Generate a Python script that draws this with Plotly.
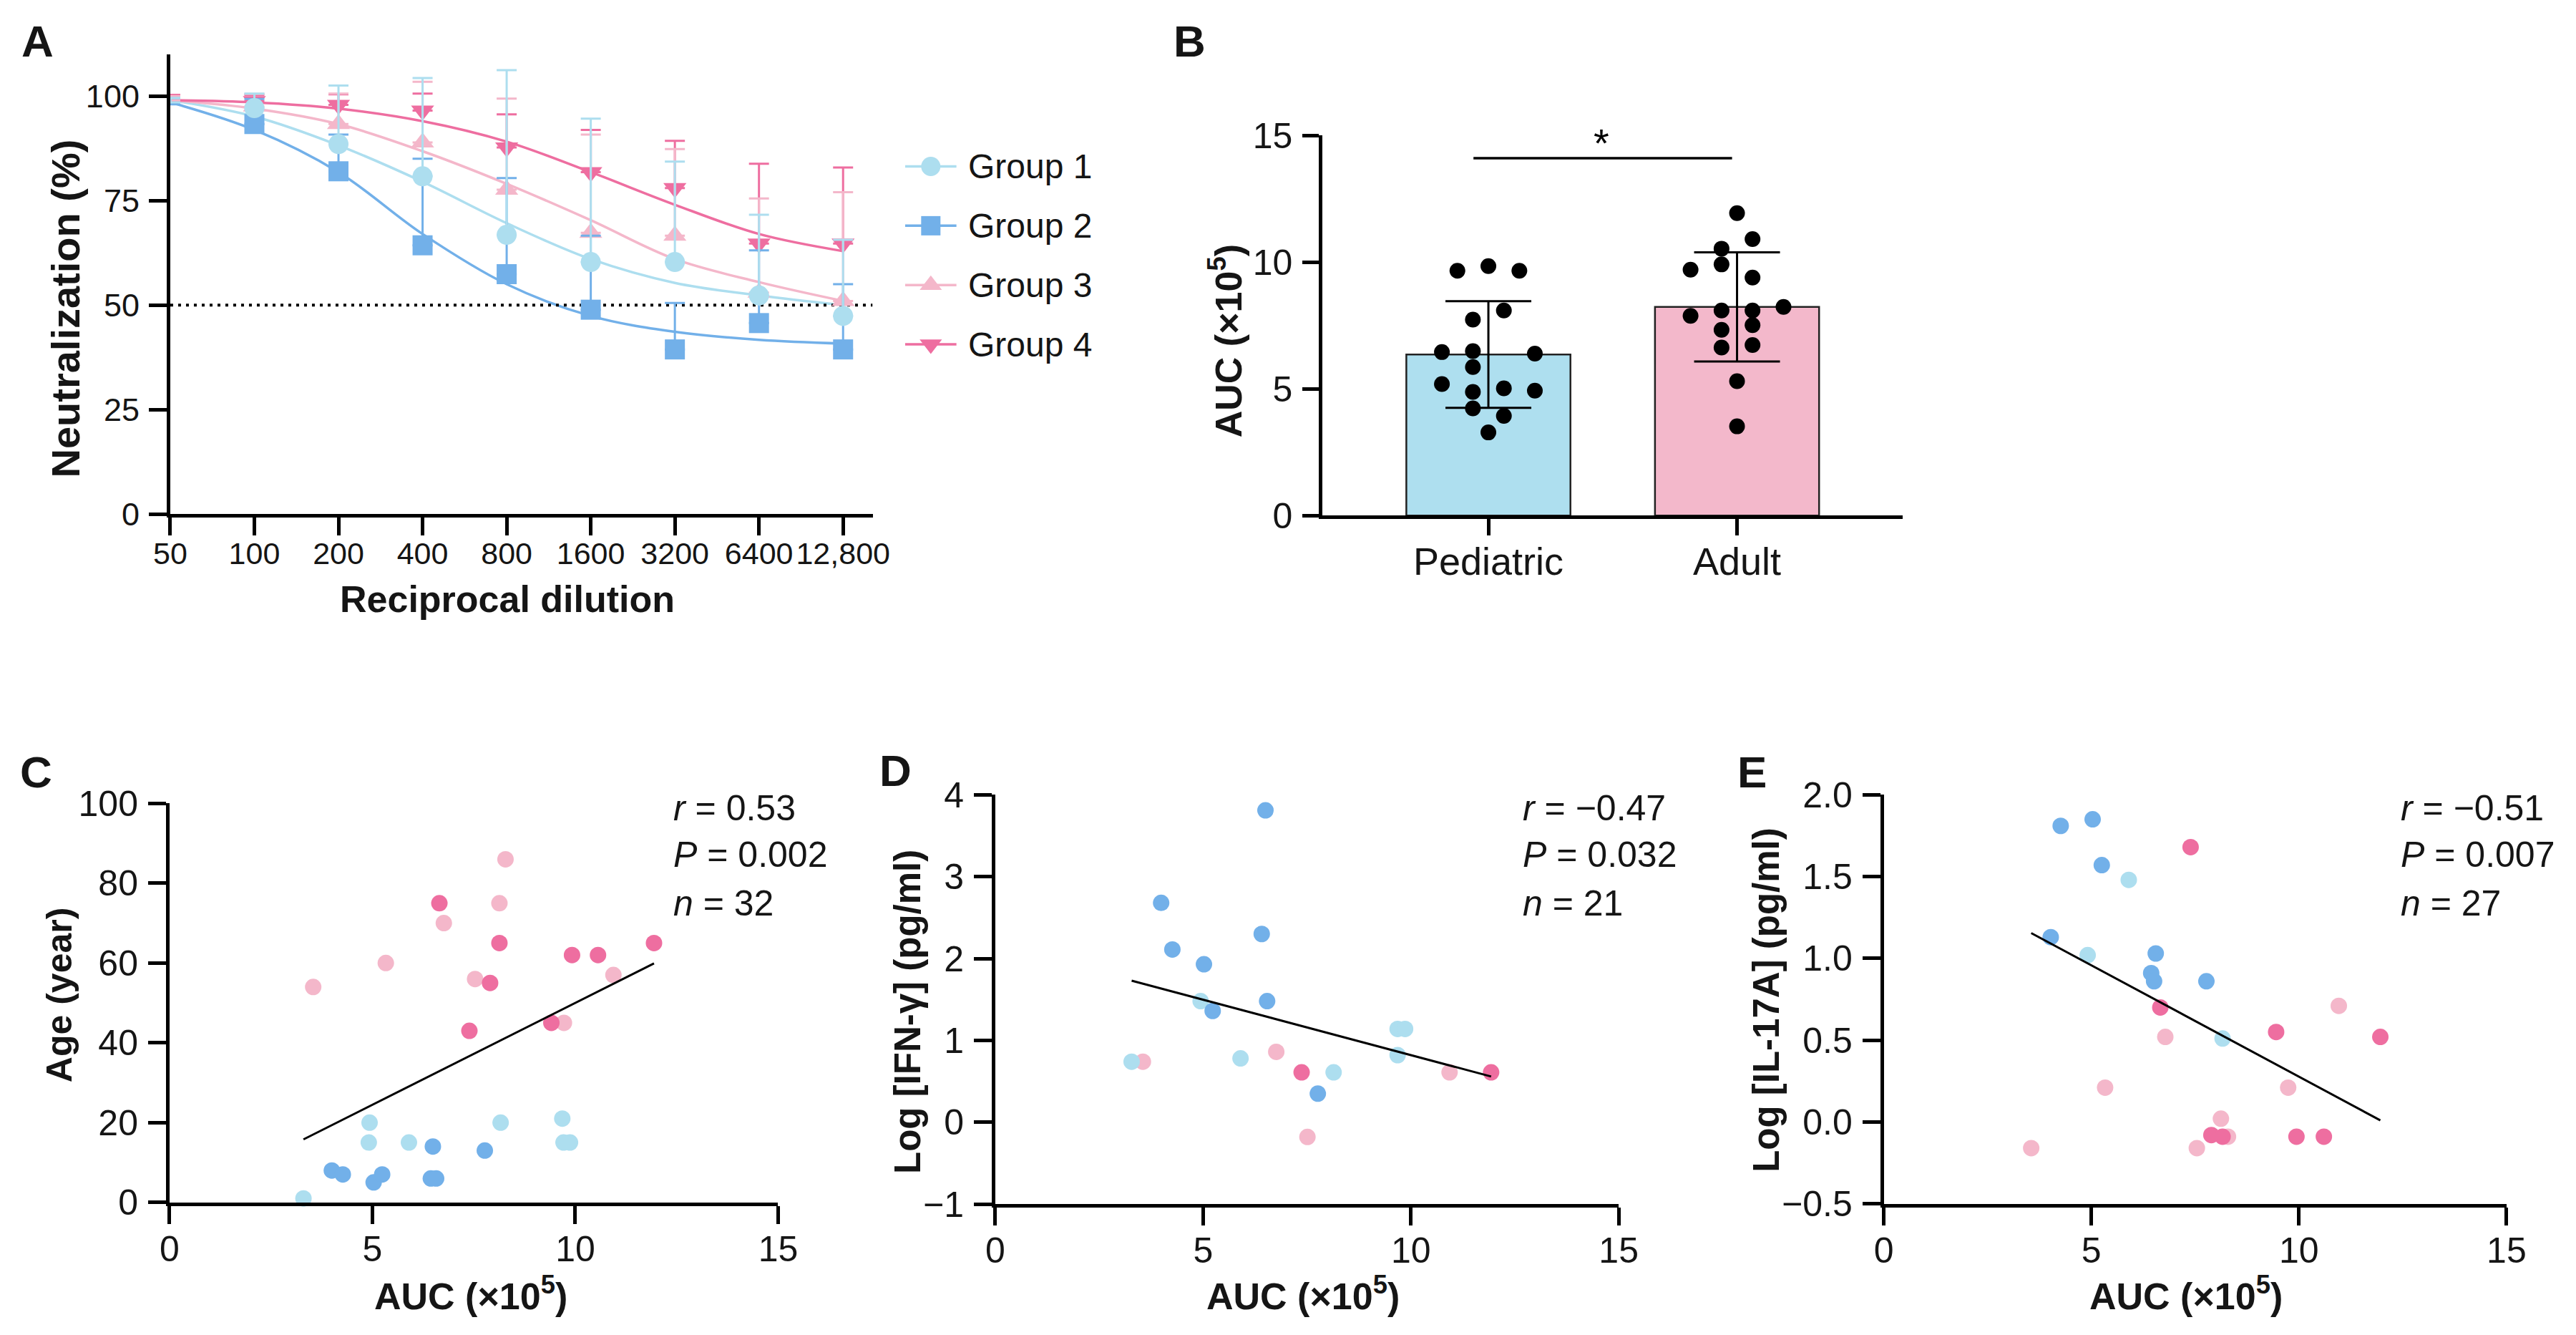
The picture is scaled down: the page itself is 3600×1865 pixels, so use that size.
import numpy as np
import plotly.graph_objects as go

# ---------------- page geometry helpers ----------------
W, H, OFF = 3584, 1849, 8
def fx(p):
    return (p - OFF) / W
def fy(p):
    return 1 - (p - OFF) / H

# ---------------- colours ----------------
COL_G1 = "#ADDEEF"
COL_G2 = "#72B0E9"
COL_G3 = "#F4B7CA"
COL_G4 = "#EE6EA0"
COL_PED = "#AEDFEF"
COL_ADU = "#F3B8CB"

# ---------------- Panel A data ----------------
dilutions = [50, 100, 200, 400, 800, 1600, 3200, 6400, 12800]
dilution_labels = ["50", "100", "200", "400", "800", "1600", "3200", "6400", "12,800"]
group_names = ["Group 1", "Group 2", "Group 3", "Group 4"]
g1_mean = [98.5, 97.1, 88.5, 80.8, 66.8, 60.3, 60.3, 52.3, 47.4]
g2_mean = [98.0, 93.3, 82.0, 64.3, 57.4, 48.9, 39.4, 45.7, 39.4]
g3_mean = [99.0, 97.5, 93.3, 88.9, 77.6, 67.3, 66.6, 53.0, 51.0]
g4_mean = [99.3, 98.8, 97.9, 96.5, 87.7, 81.8, 78.0, 64.7, 64.7]
g1_sd = [1.0, 3.5, 14.0, 23.5, 39.4, 34.3, 24.0, 19.3, 18.2]
g2_sd = [1.5, 6.0, 8.8, 20.7, 23.0, 17.7, 11.1, 17.4, 15.6]
g3_sd = [1.0, 3.0, 7.3, 14.5, 21.8, 23.5, 20.7, 22.5, 26.0]
g4_sd = [1.0, 1.5, 2.5, 4.1, 7.9, 10.1, 11.3, 19.1, 18.2]
g1_fit = [99.0, 95.1, 88.2, 79.5, 69.6, 61.0, 55.3, 52.3, 50.0]
g2_fit = [98.5, 91.9, 81.8, 67.0, 55.0, 47.4, 43.6, 41.7, 40.8]
g3_fit = [99.0, 97.0, 93.3, 86.8, 79.0, 70.3, 61.0, 55.5, 51.0]
g4_fit = [99.0, 98.5, 97.0, 94.0, 89.1, 81.8, 74.0, 67.0, 62.9]
threshold = 50

# ---------------- Panel B data ----------------
b_categories = ["Pediatric", "Adult"]
ped_auc = [9.66, 9.84, 9.66, 8.09, 7.73, 6.45, 6.49, 6.39, 5.86, 5.19, 5.02, 4.88, 4.93, 4.23, 3.93, 3.28]
ped_col = [-2, 0, 2, 1, -1, -3, -1, 3, -1, -3, 1, -1, 3, -1, 1, 0]
adu_auc = [11.93, 10.91, 10.53, 9.70, 9.91, 9.39, 8.23, 8.09, 8.09, 7.88, 7.33, 7.51, 6.63, 6.73, 5.30, 3.52]
adu_col = [0, 1, -1, -3, -1, 1, 3, -1, 1, -3, -1, 1, -1, 1, 0, 0]
sig_y = 14.1
sig_label = "*"

# ---------------- Panel C data (AUC x1e5 vs age) ----------------
c_g1_x = [3.30, 4.93, 4.91, 5.90, 8.16, 9.68, 9.71, 9.87]
c_g1_y = [1, 20, 15, 15, 20, 21, 15, 15]
c_g2_x = [4.00, 4.27, 5.03, 5.24, 6.49, 6.44, 6.57, 7.77]
c_g2_y = [8, 7, 5, 7, 14, 6, 6, 13]
c_g3_x = [3.54, 5.33, 6.76, 7.53, 8.13, 8.28, 9.72, 10.94]
c_g3_y = [54, 60, 70, 56, 75, 86, 45, 57]
c_g4_x = [6.65, 7.39, 7.90, 8.13, 9.41, 9.92, 10.56, 11.94]
c_g4_y = [75, 43, 55, 65, 45, 62, 62, 65]
c_stats = ["<i>r</i> = 0.53", "<i>P</i> = 0.002", "<i>n</i> = 32"]

# ---------------- Panel D data (AUC vs log IFN-g) ----------------
d_g1_x = [4.94, 3.28, 5.90, 8.14, 9.68, 9.86, 9.68]
d_g1_y = [1.48, 0.74, 0.78, 0.61, 1.14, 1.14, 0.82]
d_g2_x = [6.50, 3.99, 6.41, 4.26, 5.02, 6.54, 5.23, 7.76]
d_g2_y = [3.81, 2.68, 2.30, 2.11, 1.93, 1.48, 1.36, 0.35]
d_g3_x = [3.55, 6.76, 7.51, 10.93]
d_g3_y = [0.74, 0.86, -0.18, 0.61]
d_g4_x = [7.37, 11.93]
d_g4_y = [0.61, 0.61]
d_stats = ["<i>r</i> = \u22120.47", "<i>P</i> = 0.032", "<i>n</i> = 21"]

# ---------------- Panel E data (AUC vs log IL-17A) ----------------
e_g1_x = [5.90, 4.91, 8.16]
e_g1_y = [1.48, 1.02, 0.51]
e_g2_x = [4.26, 5.03, 5.25, 4.02, 6.55, 6.44, 6.51, 7.77]
e_g2_y = [1.81, 1.85, 1.57, 1.13, 1.03, 0.91, 0.86, 0.86]
e_g3_x = [10.96, 6.78, 5.33, 9.74, 8.12, 8.29, 3.55, 7.54]
e_g3_y = [0.71, 0.52, 0.21, 0.21, 0.02, -0.09, -0.16, -0.16]
e_g4_x = [7.39, 6.66, 9.45, 11.96, 7.89, 8.16, 9.94, 10.60]
e_g4_y = [1.68, 0.70, 0.55, 0.52, -0.08, -0.09, -0.09, -0.09]
e_stats = ["<i>r</i> = \u22120.51", "<i>P</i> = 0.007", "<i>n</i> = 27"]

# ---------------- fonts ----------------
FONT = "Liberation Sans, Arial, Helvetica, sans-serif"
INK = "#151515"

def ax_style(tsize=50, standoff=4, **kw):
    d = dict(showline=True, linewidth=5, linecolor="black", ticks="outside",
             ticklen=25, tickwidth=5, tickcolor="black", showgrid=False,
             zeroline=False, tickfont=dict(family=FONT, size=tsize, color=INK),
             ticklabelstandoff=standoff, tickangle=0, fixedrange=True, mirror=False)
    d.update(kw)
    return d

fig = go.Figure()

# ================= Panel A =================
fits = [g1_fit, g2_fit, g3_fit, g4_fit]
means = [g1_mean, g2_mean, g3_mean, g4_mean]
sds = [g1_sd, g2_sd, g3_sd, g4_sd]
cols = [COL_G1, COL_G2, COL_G3, COL_G4]
syms = ["circle", "square", "triangle-up", "triangle-down"]

for f, c in zip(fits, cols):
    fig.add_trace(go.Scatter(x=dilutions, y=f, mode="lines",
                             line=dict(color=c, width=3.5, shape="spline", smoothing=1.0),
                             xaxis="x", yaxis="y", cliponaxis=False, hoverinfo="skip"))

x_end = 10 ** 4.213
fig.add_trace(go.Scatter(x=[dilutions[0], x_end], y=[threshold, threshold], mode="lines",
                         line=dict(color="black", width=4, dash="4px,7px"),
                         xaxis="x", yaxis="y", cliponaxis=False, hoverinfo="skip"))

for i in [3, 2, 1, 0]:
    fig.add_trace(go.Scatter(
        x=dilutions, y=means[i], mode="markers",
        marker=dict(symbol=syms[i], size=28, color=cols[i], line=dict(width=0)),
        error_y=dict(type="data", symmetric=False, array=sds[i], arrayminus=[0] * len(dilutions),
                     color=cols[i], thickness=3, width=14),
        xaxis="x", yaxis="y", cliponaxis=False, hoverinfo="skip"))

# legend drawn on its own small axis
for i, name in enumerate(group_names):
    fig.add_trace(go.Scatter(x=[0, 1], y=[i, i], mode="lines",
                             line=dict(color=cols[i], width=3.5),
                             xaxis="x6", yaxis="y6", cliponaxis=False, hoverinfo="skip"))
    fig.add_trace(go.Scatter(x=[0.5], y=[i], mode="markers",
                             marker=dict(symbol=syms[i], size=27, color=cols[i]),
                             xaxis="x6", yaxis="y6", cliponaxis=False, hoverinfo="skip"))

# ================= Panel B =================
ped_mean, adu_mean = float(np.mean(ped_auc)), float(np.mean(adu_auc))
ped_sd, adu_sd = float(np.std(ped_auc, ddof=1)), float(np.std(adu_auc, ddof=1))
fig.add_trace(go.Bar(x=[0, 1], y=[ped_mean, adu_mean], width=0.66,
                     marker=dict(color=[COL_PED, COL_ADU], line=dict(color="#222222", width=2.5)),
                     error_y=dict(type="data", array=[ped_sd, adu_sd], color="black",
                                  thickness=3, width=60),
                     xaxis="x2", yaxis="y2", hoverinfo="skip"))
COLSTEP = 0.0623
fig.add_trace(go.Scatter(x=[0 + c * COLSTEP for c in ped_col], y=ped_auc, mode="markers",
                         marker=dict(size=22, color="black"), xaxis="x2", yaxis="y2",
                         cliponaxis=False, hoverinfo="skip"))
fig.add_trace(go.Scatter(x=[1 + c * COLSTEP for c in adu_col], y=adu_auc, mode="markers",
                         marker=dict(size=22, color="black"), xaxis="x2", yaxis="y2",
                         cliponaxis=False, hoverinfo="skip"))
fig.add_trace(go.Scatter(x=[0 - 0.06, 1 - 0.02], y=[sig_y, sig_y], mode="lines",
                         line=dict(color="black", width=3.5), xaxis="x2", yaxis="y2",
                         cliponaxis=False, hoverinfo="skip"))

# ================= Panels C, D, E =================
def scatter_panel(xa, ya, gx, gy):
    for k in [2, 3, 0, 1]:
        fig.add_trace(go.Scatter(x=gx[k], y=gy[k], mode="markers",
                                 marker=dict(size=23, color=cols[k]),
                                 xaxis=xa, yaxis=ya, cliponaxis=False, hoverinfo="skip"))
    allx = np.concatenate([np.asarray(v, float) for v in gx])
    ally = np.concatenate([np.asarray(v, float) for v in gy])
    slope, icpt = np.polyfit(allx, ally, 1)
    xs = np.array([allx.min(), allx.max()])
    fig.add_trace(go.Scatter(x=xs, y=slope * xs + icpt, mode="lines",
                             line=dict(color="black", width=3),
                             xaxis=xa, yaxis=ya, cliponaxis=False, hoverinfo="skip"))

scatter_panel("x3", "y3", [c_g1_x, c_g2_x, c_g3_x, c_g4_x], [c_g1_y, c_g2_y, c_g3_y, c_g4_y])
scatter_panel("x4", "y4", [d_g1_x, d_g2_x, d_g3_x, d_g4_x], [d_g1_y, d_g2_y, d_g3_y, d_g4_y])
scatter_panel("x5", "y5", [e_g1_x, e_g2_x, e_g3_x, e_g4_x], [e_g1_y, e_g2_y, e_g3_y, e_g4_y])

# ================= axes =================
auc_ticks = [0, 5, 10, 15]
layout_axes = dict(
    xaxis=ax_style(43, -12, type="log", range=[np.log10(dilutions[0]), 4.213],
                   tickvals=dilutions, ticktext=dilution_labels,
                   domain=[fx(217), fx(1213)], anchor="y"),
    yaxis=ax_style(45, 4, range=[0, 110], tickvals=[0, 25, 50, 75, 100],
                   domain=[fy(712), fy(49)], anchor="x"),
    xaxis2=ax_style(54, -10, range=[-0.667, 1.667], tickvals=[0, 1], ticktext=b_categories,
                    domain=[fx(1851), fx(2674)], anchor="y2", ticklen=23),
    yaxis2=ax_style(50, 4, range=[0, 15], tickvals=[0, 5, 10, 15],
                    domain=[fy(714), fy(166)], anchor="x2", ticklen=23),
    xaxis3=ax_style(50, -8, range=[0, 15], tickvals=auc_ticks,
                    domain=[fx(216), fx(1079)], anchor="y3"),
    yaxis3=ax_style(50, 4, range=[0, 100], tickvals=[0, 20, 40, 60, 80, 100],
                    domain=[fy(1704), fy(1129)], anchor="x3"),
    xaxis4=ax_style(50, -8, range=[0, 15], tickvals=auc_ticks,
                    domain=[fx(1387), fx(2271)], anchor="y4"),
    yaxis4=ax_style(50, 4, range=[-1, 4], tickvals=[-1, 0, 1, 2, 3, 4],
                    ticktext=["\u22121", "0", "1", "2", "3", "4"],
                    domain=[fy(1706.5), fy(1116.5)], anchor="x4"),
    xaxis5=ax_style(50, -8, range=[0, 15], tickvals=auc_ticks,
                    domain=[fx(2647), fx(3530)], anchor="y5"),
    yaxis5=ax_style(50, 4, range=[-0.5, 2.0], tickvals=[-0.5, 0, 0.5, 1.0, 1.5, 2.0],
                    ticktext=["\u22120.5", "0.0", "0.5", "1.0", "1.5", "2.0"],
                    domain=[fy(1706), fy(1116.5)], anchor="x5"),
    xaxis6=dict(visible=False, range=[0, 1], domain=[fx(1259), fx(1332)], anchor="y6", fixedrange=True),
    yaxis6=dict(visible=False, range=[3.5, -0.5], domain=[fy(510), fy(168)], anchor="x6", fixedrange=True),
)

# ================= annotations =================
ann = []
def text(x, y, s, size, bold=False, angle=0, xanchor="center", yanchor="middle", color=INK):
    ann.append(dict(x=fx(x), y=fy(y), xref="paper", yref="paper", text=s, showarrow=False,
                    textangle=angle, xanchor=xanchor, yanchor=yanchor,
                    font=dict(family=FONT, size=size, color=color,
                              weight=700 if bold else 400)))

# panel letters
for lab, (lx, ly) in {"A": (29, 30), "B": (1662, 30), "C": (27, 1084), "D": (1245, 1082), "E": (2460, 1084)}.items():
    text(lx, ly, lab, 62, bold=True)

# Panel A titles
text(68, 416, "Neutralization (%)", 56, bold=True, angle=-90)
text(695, 834, "Reciprocal dilution", 52, bold=True)
for i, name in enumerate(group_names):
    ann.append(dict(x=1, y=i, xref="x6", yref="y6", text=name, showarrow=False,
                    xanchor="left", yanchor="middle", xshift=14,
                    font=dict(family=FONT, size=48, color=INK)))

# Panel B titles
text(1714, 462, "AUC (\u00d710<sup>5</sup>)", 52, bold=True, angle=-90)
ann.append(dict(x=0.455, y=14.7, xref="x2", yref="y2", text=sig_label, showarrow=False,
                xanchor="center", yanchor="middle", font=dict(family=FONT, size=56, color="black")))

# Panel C/D/E titles
text(60, 1405, "Age (year)", 50, bold=True, angle=-90)
text(1262, 1429, "Log [IFN-\u03b3] (pg/ml)", 51, bold=True, angle=-90)
text(2481, 1412, "Log [IL-17A] (pg/ml)", 51, bold=True, angle=-90)
for cx in [643, 1823, 3075]:
    text(cx, 1835, "AUC (\u00d710<sup>5</sup>)", 52, bold=True)

# stats text
for left, stats in [(928, c_stats), (2133, d_stats), (3378, e_stats)]:
    for yy, s in zip([1136, 1203, 1273], stats):
        text(left, yy, s, 50, xanchor="left")

fig.update_layout(
    width=W, height=H, margin=dict(l=0, r=0, t=0, b=0),
    paper_bgcolor="white", plot_bgcolor="white", showlegend=False,
    annotations=ann, **layout_axes,
)

fig.write_html("out.html")
